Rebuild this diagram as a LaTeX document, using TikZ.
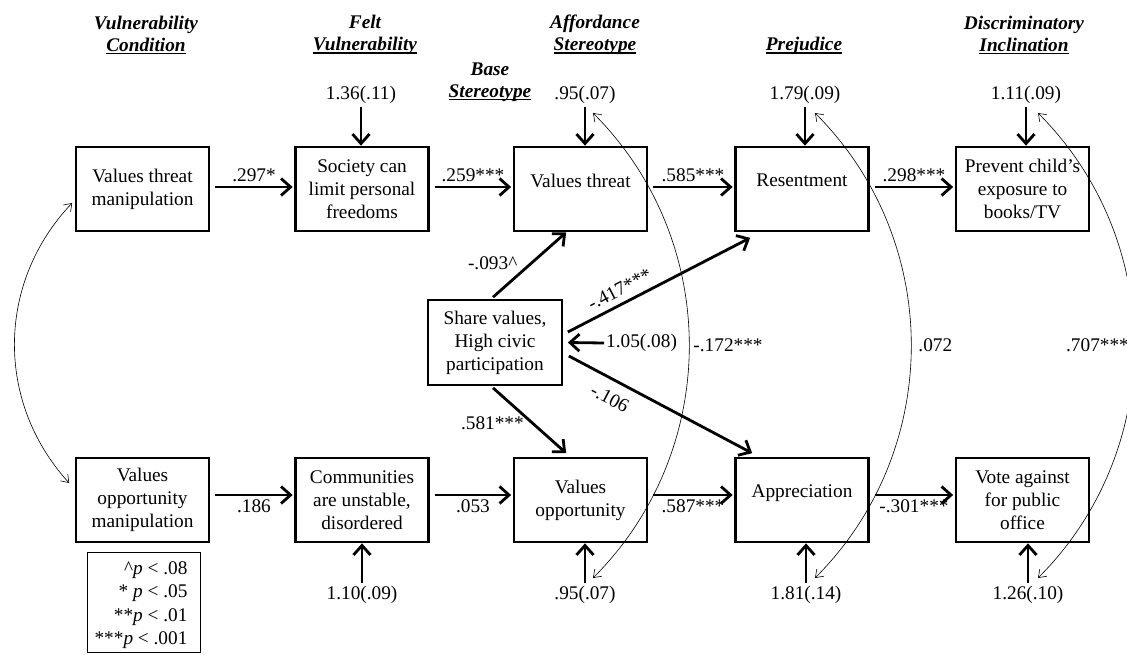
\documentclass[tikz,border=0pt]{standalone}
\usepackage{fontspec}
\setmainfont{Liberation Serif}
\usetikzlibrary{arrows.meta}
% thick underline for the column headings
\newsavebox\hdbox
\newcommand\hdul[1]{\sbox\hdbox{#1}\rlap{\rule[-3.2pt]{\wd\hdbox}{1.6pt}}\usebox\hdbox}
\begin{document}
\begin{tikzpicture}[x=1pt,y=1pt,
  every node/.style={font=\fontsize{19.3}{23}\selectfont},
  box/.style={draw, line width=2.7pt, minimum width=133pt, minimum height=84pt, align=center, inner sep=2pt},
  oneline/.style={text depth=17pt},
  hdr/.style={align=center, font=\fontsize{19.3}{22}\selectfont\bfseries\itshape},
  causal/.style={line width=2.8pt, -{Straight Barb[length=9.5pt,width=17pt]}},
  covar/.style={line width=0.6pt, {Straight Barb[length=7pt,width=10pt]}-{Straight Barb[length=7pt,width=10pt]}}
]
\useasboundingbox (0,0) rectangle (1127,-654);
\clip (0,0) rectangle (1127,-654);
\fill[white] (0,0) rectangle (1127,-654);

% column headings
\node[hdr] (hA) at (146,-35) {Vulnerability\\\hdul{Condition}};
\node[hdr] (hB) at (365,-35) {Felt\\\hdul{Vulnerability}};
\node[hdr] (hC) at (490,-82) {Base\\\hdul{Stereotype}};
\node[hdr] (hD) at (595,-35) {Affordance\\\hdul{Stereotype}};
\node[hdr] (hE) at (804,-46) {\hdul{Prejudice}};
\node[hdr] (hF) at (1024,-35) {Discriminatory\\\hdul{Inclination}};

% threat pathway
\node[box] (b1) at (142.5,-189) {Values threat\\manipulation};
\node[box] (b2) at (362,-189) {Society can\\limit personal\\freedoms};
\node[box,oneline] (b3) at (580.5,-189) {Values threat};
\node[box,oneline] (b4) at (802,-189) {Resentment};
\node[box] (b5) at (1022.5,-189) {Prevent child’s\\exposure to\\books/TV};

% opportunity pathway
\node[box] (c1) at (142.5,-500) {Values\\opportunity\\manipulation};
\node[box] (c2) at (362,-500) {Communities\\are unstable,\\disordered};
\node[box] (c3) at (580.5,-500) {Values\\opportunity};
\node[box,oneline] (c4) at (802,-500) {Appreciation};
\node[box] (c5) at (1022.5,-500) {Vote against\\for public\\office};

% base stereotype
\node[box, minimum width=134pt, minimum height=85pt] (sv) at (495,-342.5) {Share values,\\High civic\\participation};

% horizontal paths
\draw[causal] ([xshift=5pt,yshift=2pt]b1.east) -- node[above] (l1) {.297*} ([xshift=-1.5pt,yshift=2pt]b2.west);
\draw[causal] ([xshift=5pt,yshift=2pt]b2.east) -- node[above] (l2) {.259***} ([xshift=-1.5pt,yshift=2pt]b3.west);
\draw[causal] ([xshift=5pt,yshift=2pt]b3.east) -- node[above] (l3) {.585***} ([xshift=-1.5pt,yshift=2pt]b4.west);
\draw[causal] ([xshift=5pt,yshift=2pt]b4.east) -- node[above] (l4) {.298***} ([xshift=-1.5pt,yshift=2pt]b5.west);
\draw[causal] ([xshift=5pt,yshift=5pt]c1.east) -- node[below] (m1) {.186} ([xshift=-1.5pt,yshift=5pt]c2.west);
\draw[causal] ([xshift=5pt,yshift=5pt]c2.east) -- node[below] (m2) {.053} ([xshift=-1.5pt,yshift=5pt]c3.west);
\draw[causal] ([xshift=5pt,yshift=5pt]c3.east) -- node[below,inner sep=3pt] (m3) {.587***} ([xshift=-1.5pt,yshift=5pt]c4.west);
\draw[causal] ([xshift=5pt,yshift=5pt]c4.east) -- node[below,inner sep=3pt] (m4) {-.301***} ([xshift=-1.5pt,yshift=5pt]c5.west);

% paths from the base stereotype
\draw[causal] ([xshift=-2pt,yshift=1.5pt]sv.north) -- node[pos=0.52,left=9pt] (d1) {-.093\textasciicircum} ([xshift=53.5pt]b3.south west);
\draw[causal] ([xshift=4.5pt,yshift=10.5pt]sv.east) -- node[pos=0.32,sloped,above=3pt] (d2) {-.417***} ([xshift=16pt,yshift=-5.5pt]b4.south west);
\draw[causal] ([xshift=5.5pt,yshift=-13.5pt]sv.east) -- node[pos=0.27,sloped,below=7pt] (d3) {-.106} ([xshift=18pt,yshift=3.5pt]c4.north west);
\draw[causal] ([xshift=-2pt,yshift=-1.5pt]sv.south) -- node[pos=0.54,left=4pt] (d4) {.581***} ([xshift=53.5pt,yshift=3.5pt]c3.north west);

% residual variances
\node (v2) at (361,-95) {1.36(.11)};
\node (v3) at (585,-95) {.95(.07)};
\node (v4) at (805,-95) {1.79(.09)};
\node (v5) at (1026,-95) {1.11(.09)};
\node (w2) at (362,-595) {1.10(.09)};
\node (w3) at (585,-595) {.95(.07)};
\node (w4) at (806,-595) {1.81(.14)};
\node (w5) at (1028,-595) {1.26(.10)};
\node[anchor=west,inner sep=2pt] (w1) at (604,-343) {1.05(.08)};
\foreach \v/\b in {v2/b2,v3/b3,v4/b4,v5/b5}
  \draw[causal] (\v.south) -- (\v.south |- \b.north);
\foreach \v/\b in {w2/c2,w3/c3,w4/c4,w5/c5}
  \draw[causal] (\v.north) -- (\v.north |- \b.south);
\draw[causal] (w1.west) -- ([xshift=4.5pt]sv.east);

% covariances
\coordinate (k1) at ([xshift=-2.5pt,yshift=-14pt]b1.west);
\coordinate (k2) at ([xshift=-5.5pt,yshift=17pt]c1.west);
\coordinate (t3) at (593,-113);
\coordinate (u3) at (593,-578);
\coordinate (t4) at (815,-113);
\coordinate (u4) at (815,-578);
\coordinate (t5) at (1038,-113);
\coordinate (u5) at (1038,-578);
\draw[covar] (k1) to[bend right=43] (k2);
\draw[covar] (t3) to[bend left=45] node[midway,right,inner sep=4pt] (r3) {-.172***} (u3);
\draw[covar] (t4) to[bend left=45] node[midway,right,inner sep=7pt] (r4) {.072} (u4);
\draw[covar] (t5) to[bend left=45] node[midway,left,inner sep=5pt] (r5) {.707***} (u5);

% significance key
\draw[line width=0.8pt] (87,-552) rectangle (200,-652);
\node[anchor=east, align=right, font=\fontsize{19.3}{23.3}\selectfont] (key) at (191,-605)
  {\textasciicircum\textit{p} < .08\\{}*~\textit{p} < .05\\{}**\textit{p} < .01\\{}***\textit{p} < .001};
\end{tikzpicture}
\end{document}
